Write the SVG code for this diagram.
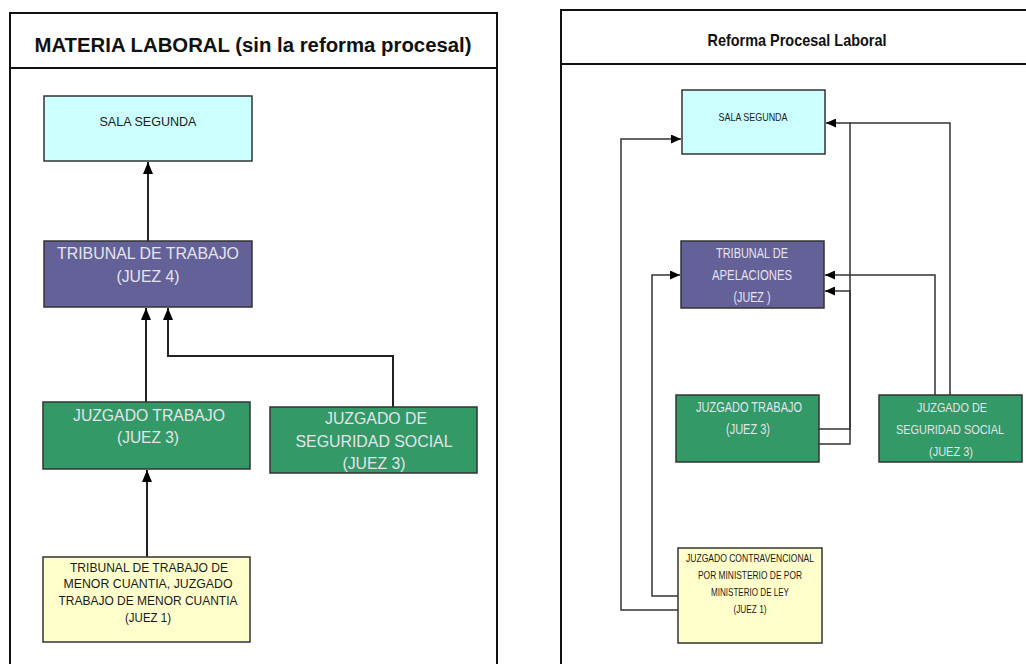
<svg xmlns="http://www.w3.org/2000/svg" width="1026" height="664" viewBox="0 0 1026 664">
<style>
.frame{fill:none;stroke:#111;stroke-width:2}
.box{stroke:#333;stroke-width:1.5}
.cyan{fill:#ccffff}
.purple{fill:#646199}
.green{fill:#339966}
.yellow{fill:#ffffcc}
.t{font-family:"Liberation Sans",Arial,sans-serif;text-anchor:middle}
.dk{fill:#1a1a1a}
.lt{fill:#e4e4ec}
.title{font-weight:bold;fill:#111}
.con{fill:none;stroke:#222;stroke-width:2}
.con2{fill:none;stroke:#333;stroke-width:1.5}
</style>
<defs>
<marker id="ah" viewBox="0 0 12 10" refX="12" refY="5" markerWidth="12" markerHeight="10" orient="auto" markerUnits="userSpaceOnUse">
<path d="M0,0 L12,5 L0,10 z" fill="#000"/>
</marker>
<marker id="ah2" viewBox="0 0 10 9" refX="10" refY="4.5" markerWidth="10" markerHeight="9" orient="auto" markerUnits="userSpaceOnUse">
<path d="M0,0 L10,4.5 L0,9 z" fill="#000"/>
</marker>
</defs>
<rect width="1026" height="664" fill="#fff"/>

<g id="left-panel">
<path class="frame" d="M10,670 V13 H497 V670 M10,68 H497"/>
<text class="t title" x="253" y="52" font-size="20" textLength="437" lengthAdjust="spacingAndGlyphs">MATERIA LABORAL (sin la reforma procesal)</text>
</g>

<g id="right-panel">
<path class="frame" d="M561,670 V10 H1030 M561,64 H1030"/>
<text class="t title" x="797" y="46" font-size="17" textLength="179" lengthAdjust="spacingAndGlyphs">Reforma Procesal Laboral</text>
</g>

<g id="connectors">
<path class="con" d="M148,241 V162" marker-end="url(#ah)"/>
<path class="con" d="M146,402 V308" marker-end="url(#ah)"/>
<path class="con" d="M393,407 V356 H168 V308" marker-end="url(#ah)"/>
<path class="con" d="M147,557 V470" marker-end="url(#ah)"/>
<path class="con2" d="M678,610 H621 V139 H681" marker-end="url(#ah2)"/>
<path class="con2" d="M678,596 H652 V275 H680" marker-end="url(#ah2)"/>
<path class="con2" d="M819,429 H850 V123 H826" marker-end="url(#ah2)"/>
<path class="con2" d="M950,395 V123 H850"/>
<path class="con2" d="M819,444 H850 V291 H825" marker-end="url(#ah2)"/>
<path class="con2" d="M935,395 V275 H825" marker-end="url(#ah2)"/>
</g>

<g id="l-sala-segunda">
<rect class="box cyan" x="44" y="96" width="208" height="65"/>
<text class="t dk" x="148" y="126" font-size="13" textLength="97" lengthAdjust="spacingAndGlyphs">SALA SEGUNDA</text>
</g>
<g id="l-tribunal-trabajo">
<rect class="box purple" x="44" y="241" width="208" height="66"/>
<text class="t lt" x="148" y="259" font-size="17" textLength="182" lengthAdjust="spacingAndGlyphs">TRIBUNAL DE TRABAJO</text>
<text class="t lt" x="148" y="282" font-size="17" textLength="63" lengthAdjust="spacingAndGlyphs">(JUEZ 4)</text>
</g>
<g id="l-juzgado-trabajo">
<rect class="box green" x="43" y="402" width="207" height="67"/>
<text class="t lt" x="149" y="421" font-size="17" textLength="152" lengthAdjust="spacingAndGlyphs">JUZGADO TRABAJO</text>
<text class="t lt" x="148" y="443" font-size="17" textLength="62" lengthAdjust="spacingAndGlyphs">(JUEZ 3)</text>
</g>
<g id="l-juzgado-seguridad-social">
<rect class="box green" x="270" y="407" width="207" height="66"/>
<text class="t lt" x="376" y="424" font-size="17" textLength="102" lengthAdjust="spacingAndGlyphs">JUZGADO DE</text>
<text class="t lt" x="374" y="447" font-size="17" textLength="157" lengthAdjust="spacingAndGlyphs">SEGURIDAD SOCIAL</text>
<text class="t lt" x="374" y="469" font-size="17" textLength="63" lengthAdjust="spacingAndGlyphs">(JUEZ 3)</text>
</g>
<g id="l-menor-cuantia">
<rect class="box yellow" x="43" y="557" width="207" height="85"/>
<text class="t dk" x="149" y="572" font-size="13" textLength="158" lengthAdjust="spacingAndGlyphs">TRIBUNAL DE TRABAJO DE</text>
<text class="t dk" x="148" y="588" font-size="13" textLength="169" lengthAdjust="spacingAndGlyphs">MENOR CUANTIA,  JUZGADO</text>
<text class="t dk" x="148" y="605" font-size="13" textLength="179" lengthAdjust="spacingAndGlyphs">TRABAJO DE MENOR CUANTIA</text>
<text class="t dk" x="148" y="622" font-size="13" textLength="46" lengthAdjust="spacingAndGlyphs">(JUEZ 1)</text>
</g>

<g id="r-sala-segunda">
<rect class="box cyan" x="682" y="90" width="143" height="64"/>
<text class="t dk" x="753" y="121" font-size="11" textLength="69" lengthAdjust="spacingAndGlyphs">SALA SEGUNDA</text>
</g>
<g id="r-tribunal-apelaciones">
<rect class="box purple" x="681" y="241" width="143" height="67"/>
<text class="t lt" x="752" y="258" font-size="15" textLength="72" lengthAdjust="spacingAndGlyphs">TRIBUNAL DE</text>
<text class="t lt" x="752" y="280" font-size="15" textLength="80" lengthAdjust="spacingAndGlyphs">APELACIONES</text>
<text class="t lt" x="752" y="302" font-size="15" textLength="37" lengthAdjust="spacingAndGlyphs">(JUEZ )</text>
</g>
<g id="r-juzgado-trabajo">
<rect class="box green" x="676" y="395" width="143" height="67"/>
<text class="t lt" x="749" y="412" font-size="15" textLength="106" lengthAdjust="spacingAndGlyphs">JUZGADO TRABAJO</text>
<text class="t lt" x="748" y="434" font-size="15" textLength="44" lengthAdjust="spacingAndGlyphs">(JUEZ 3)</text>
</g>
<g id="r-juzgado-seguridad-social">
<rect class="box green" x="879" y="395" width="143" height="67"/>
<text class="t lt" x="952" y="412" font-size="13" textLength="70" lengthAdjust="spacingAndGlyphs">JUZGADO DE</text>
<text class="t lt" x="950" y="434" font-size="12" textLength="108" lengthAdjust="spacingAndGlyphs">SEGURIDAD SOCIAL</text>
<text class="t lt" x="951" y="456" font-size="13" textLength="44" lengthAdjust="spacingAndGlyphs">(JUEZ 3)</text>
</g>
<g id="r-juzgado-contravencional">
<rect class="box yellow" x="678" y="548" width="144" height="95"/>
<text class="t dk" x="750" y="562" font-size="11" textLength="128" lengthAdjust="spacingAndGlyphs">JUZGADO CONTRAVENCIONAL</text>
<text class="t dk" x="750" y="579" font-size="11" textLength="104" lengthAdjust="spacingAndGlyphs">POR MINISTERIO DE  POR</text>
<text class="t dk" x="750" y="596" font-size="11" textLength="78" lengthAdjust="spacingAndGlyphs">MINISTERIO DE LEY</text>
<text class="t dk" x="750" y="613" font-size="11" textLength="33" lengthAdjust="spacingAndGlyphs">(JUEZ 1)</text>
</g>
</svg>
